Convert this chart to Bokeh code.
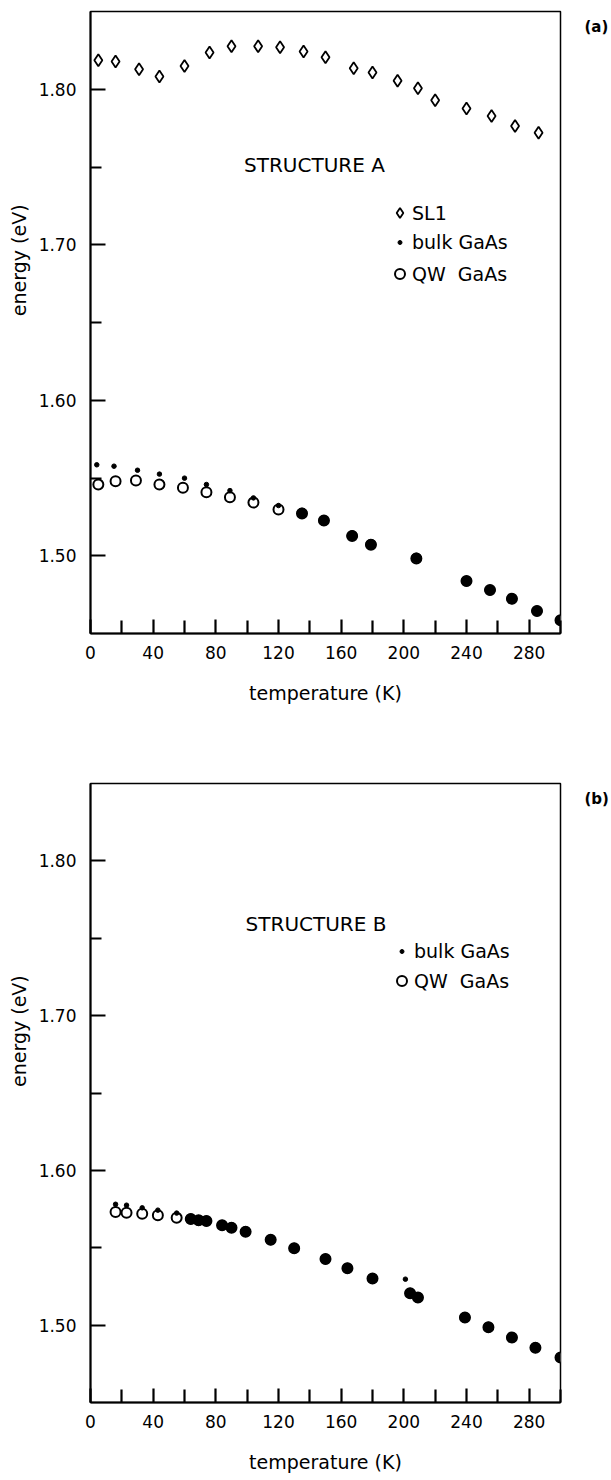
import numpy as np
from bokeh.plotting import figure
from bokeh.models import (Range1d, FixedTicker, Label, Legend, LegendItem, LinearAxis,
                          ColumnDataSource, PrintfTickFormatter)
from bokeh.layouts import column
from bokeh.embed import file_html
from bokeh.resources import INLINE

# ---------------- data: panel (a) STRUCTURE A ----------------
a_sl1_T = [5, 16, 31, 44, 60, 76, 90, 107, 121, 136, 150, 168, 180, 196, 209, 220, 240, 256, 271, 286]
a_sl1_E = [1.8187, 1.8179, 1.8129, 1.8082, 1.8150, 1.8237, 1.8276, 1.8276, 1.8270, 1.8243,
           1.8205, 1.8135, 1.8108, 1.8054, 1.8006, 1.7929, 1.7877, 1.7828, 1.7763, 1.7720]

a_bulk_T = [4, 15, 30, 44, 60, 74, 89, 104, 120, 135, 149, 167, 179, 208, 240, 255, 269, 285, 300]
a_bulk_E = [1.5585, 1.5576, 1.5550, 1.5525, 1.5499, 1.5458, 1.5419, 1.5372, 1.5323, 1.5274,
            1.5226, 1.5129, 1.5073, 1.4985, 1.4837, 1.4779, 1.4723, 1.4645, 1.4585]

a_qw_T = [5, 16, 29, 44, 59, 74, 89, 104, 120, 135, 149, 167, 179, 208, 240, 255, 269, 285, 300]
a_qw_E = [1.5458, 1.5479, 1.5484, 1.5458, 1.5437, 1.5408, 1.5376, 1.5342, 1.5297, 1.5271,
          1.5226, 1.5127, 1.5071, 1.4983, 1.4837, 1.4779, 1.4723, 1.4645, 1.4585]

# ---------------- data: panel (b) STRUCTURE B ----------------
b_qw_T = [16, 23, 33, 43, 55, 64, 69, 74, 84, 90, 99, 115, 130, 150, 164, 180, 204, 209, 239, 254, 269, 284, 300]
b_qw_E = [1.5731, 1.5726, 1.5720, 1.5710, 1.5694, 1.5686, 1.5677, 1.5673, 1.5645, 1.5630, 1.5604,
          1.5551, 1.5497, 1.5427, 1.5368, 1.5301, 1.5206, 1.5178, 1.5049, 1.4987, 1.4920, 1.4854, 1.4791]

b_bulk_T = [16, 23, 33, 43, 55, 64, 69, 74, 84, 90, 99, 115, 130, 150, 164, 180, 201, 204, 209, 239, 254, 269, 284, 300]
b_bulk_E = [1.5781, 1.5775, 1.5758, 1.5743, 1.5724, 1.5686, 1.5677, 1.5673, 1.5645, 1.5630, 1.5604,
            1.5551, 1.5497, 1.5427, 1.5368, 1.5301, 1.5297, 1.5206, 1.5178, 1.5049, 1.4987, 1.4920, 1.4854, 1.4791]

x_major = [0, 40, 80, 120, 160, 200, 240, 280]
x_minor = [20, 60, 100, 140, 180, 220, 260, 300]
y_major = [1.50, 1.60, 1.70, 1.80]
y_minor = [1.55, 1.65, 1.75]

FONT = "DejaVu Sans"
TICK = "black"


def bulk_sizes(bT, bE, qT, qE):
    q = dict(zip(qT, qE))
    return [10 if (t in q and abs(q[t] - e) < 0.0012) else 4.5 for t, e in zip(bT, bE)]


def text_axis(text, at, size, style, standoff, orientation):
    ax = LinearAxis(ticker=FixedTicker(ticks=[at], minor_ticks=[]),
                    formatter=PrintfTickFormatter(format=text))
    ax.axis_line_color = None
    ax.major_tick_line_color = None
    ax.minor_tick_line_color = None
    ax.major_tick_in = 0
    ax.major_tick_out = 0
    ax.minor_tick_in = 0
    ax.minor_tick_out = 0
    ax.major_label_standoff = standoff
    ax.major_label_orientation = orientation
    ax.major_label_text_font = FONT
    ax.major_label_text_font_size = size
    ax.major_label_text_font_style = style
    ax.major_label_text_color = "black"
    return ax


def make_panel(border_top, border_bottom, border_left, border_right, tag):
    p = figure(width=611, height=740, output_backend="svg", toolbar_location=None,
               x_range=Range1d(0, 300), y_range=Range1d(1.45, 1.85),
               min_border_top=border_top, min_border_bottom=border_bottom,
               min_border_left=border_left, min_border_right=border_right)
    p.xgrid.visible = False
    p.ygrid.visible = False
    p.outline_line_color = "black"
    p.outline_line_width = 1.5
    p.background_fill_color = "white"
    p.border_fill_color = "white"

    xa = p.xaxis[0]
    xa.ticker = FixedTicker(ticks=x_major, minor_ticks=x_minor)
    xa.formatter = PrintfTickFormatter(format="%d")
    xa.axis_label = "temperature (K)"
    ya = p.yaxis[0]
    ya.ticker = FixedTicker(ticks=y_major, minor_ticks=y_minor)
    ya.formatter = PrintfTickFormatter(format="%.2f")

    for ax in (xa, ya):
        ax.axis_line_color = "black"
        ax.axis_line_width = 2
        ax.major_tick_line_color = TICK
        ax.minor_tick_line_color = TICK
        ax.major_tick_line_width = 2.2
        ax.minor_tick_line_width = 2.2
        ax.major_tick_out = 0
        ax.minor_tick_out = 0
        ax.major_label_text_font = FONT
        ax.major_label_text_font_size = "17px"
        ax.major_label_text_color = "black"
        ax.axis_label_text_font = FONT
        ax.axis_label_text_font_size = "19px"
        ax.axis_label_text_font_style = "normal"
        ax.axis_label_text_color = "black"
    xa.major_tick_in = 14
    xa.minor_tick_in = 13
    xa.major_label_standoff = 12
    xa.axis_label_standoff = 20
    ya.major_tick_in = 15
    ya.minor_tick_in = 11
    ya.major_label_standoff = 14

    p.add_layout(text_axis("energy (eV)", 1.69, "19px", "normal", 5, "vertical"), "left")
    p.add_layout(text_axis(tag, 1.84, "15px", "bold", 24, "horizontal"), "right")
    return p


def add_series(p, qT, qE, bT, bE):
    qw = p.scatter(qT, qE, marker="circle", size=10, fill_color="white",
                   line_color="black", line_width=2)
    src = ColumnDataSource(dict(x=bT, y=bE, s=bulk_sizes(bT, bE, qT, qE)))
    bulk = p.scatter("x", "y", source=src, marker="circle", size="s",
                     fill_color="black", line_color="black", line_width=1)
    return qw, bulk


def add_legend(p, renderer, label, x, y, gh):
    lg = Legend(items=[LegendItem(label=label, renderers=[renderer])],
                location=(x, y), padding=0, margin=0, spacing=0,
                glyph_width=25, glyph_height=gh, label_height=20,
                label_standoff=0, border_line_color=None,
                background_fill_alpha=0, label_text_font=FONT,
                label_text_font_size="19px", label_text_color="black")
    p.add_layout(lg, "center")


# ---------------- panel (a) ----------------
pa = make_panel(11, 107, 90, 48, "(a)")
sl1 = pa.scatter(a_sl1_T, a_sl1_E, marker="diamond", size=12,
                 fill_color="white", line_color="black", line_width=1.8)
qa, ba = add_series(pa, a_qw_T, a_qw_E, a_bulk_T, a_bulk_E)
add_legend(pa, sl1, "SL1", 297, 408, 25)
add_legend(pa, ba, "bulk GaAs", 297, 380, 10)
add_legend(pa, qa, "QW  GaAs", 297, 347, 25)
pa.add_layout(Label(x=98, y=1.751, text="STRUCTURE A", text_font=FONT,
                    text_font_size="20px", text_baseline="middle", text_color="black"))

# ---------------- panel (b) ----------------
pb = make_panel(43, 78, 88, 51, "(b)")
qb, bb = add_series(pb, b_qw_T, b_qw_E, b_bulk_T, b_bulk_E)
add_legend(pb, bb, "bulk GaAs", 299, 440, 10)
add_legend(pb, qb, "QW  GaAs", 299, 409, 25)
pb.add_layout(Label(x=99, y=1.7595, text="STRUCTURE B", text_font=FONT,
                    text_font_size="20px", text_baseline="middle", text_color="black"))

layout = column(pa, pb, spacing=0)
open("out.html", "w").write(file_html(layout, INLINE))
